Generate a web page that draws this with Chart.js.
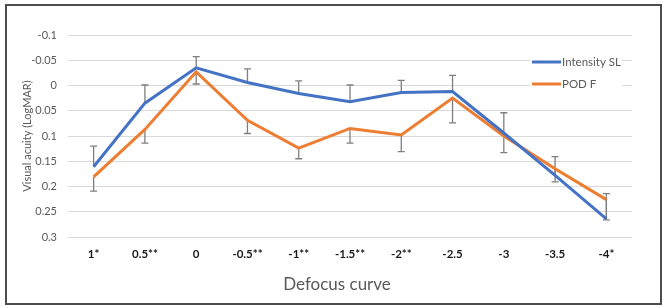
<!DOCTYPE html>
<html>
<head>
<meta charset="utf-8">
<script src="https://cdn.jsdelivr.net/npm/chart.js@4/dist/chart.umd.min.js"></script>
<style>
  html, body { margin: 0; padding: 0; background: #fff; }
  #wrap { width: 663px; height: 307px; }
</style>
</head>
<body>
<div id="wrap"><canvas id="myChart" width="663" height="307"></canvas></div>
<script>
// Defocus curve data (LogMAR)
const categories = ['1*', '0.5**', '0', '-0.5**', '-1**', '-1.5**', '-2**', '-2.5', '-3', '-3.5', '-4*'];
const intensitySL = [0.161, 0.035, -0.035, -0.006, 0.016, 0.032, 0.014, 0.012, 0.094, 0.178, 0.264];
const podF = [0.181, 0.087, -0.027, 0.069, 0.124, 0.085, 0.098, 0.025, 0.100, 0.165, 0.226];
// error bars: intensity drawn upwards, POD F drawn downwards
const intensityErr = [0.041, 0.036, 0.022, 0.027, 0.025, 0.033, 0.024, 0.032, 0.040, 0.037, 0.050];
const podErr = [0.028, 0.027, 0.024, 0.026, 0.021, 0.029, 0.033, 0.049, 0.033, 0.026, 0.040];
const yTickValues = [-0.1, -0.05, 0, 0.05, 0.1, 0.15, 0.2, 0.25, 0.3];
const yTickLabels = ['-0.1', '-0.05', '0', '0.05', '0.1', '0.15', '0.2', '0.25', '0.3'];

const FONT = 'Lato, "Open Sans", sans-serif';

// Frame around the figure
const framePlugin = {
    id: 'frame',
    beforeDraw(chart) {
        const ctx = chart.ctx;
        ctx.save();
        ctx.strokeStyle = '#4d4d4d';
        ctx.lineWidth = 2;
        ctx.strokeRect(6, 5, 655, 299);
        ctx.restore();
    }
};

// Error bars, drawn below the lines
const errorBarPlugin = {
    id: 'errorBars',
    beforeDatasetsDraw(chart) {
        const ctx = chart.ctx;
        const x = chart.scales.x;
        const y = chart.scales.y;
        ctx.save();
        ctx.strokeStyle = '#7f7f7f';
        ctx.lineWidth = 1.3;
        const bar = (px, v0, v1) => {
            const y0 = y.getPixelForValue(v0);
            const y1 = y.getPixelForValue(v1);
            ctx.beginPath();
            ctx.moveTo(px, y0);
            ctx.lineTo(px, y1);
            ctx.moveTo(px - 3.5, y1);
            ctx.lineTo(px + 3.5, y1);
            ctx.stroke();
        };
        categories.forEach((c, i) => {
            const px = x.getPixelForValue(i);
            bar(px, intensitySL[i], intensitySL[i] - intensityErr[i]);
            bar(px, podF[i], podF[i] + podErr[i]);
        });
        ctx.restore();
    }
};

// Legend inside the plot and the axis titles
const labelsPlugin = {
    id: 'labels',
    afterDraw(chart) {
        const ctx = chart.ctx;
        const area = chart.chartArea;
        ctx.save();
        // legend
        ctx.fillStyle = '#fff';
        ctx.fillRect(530, 50, 92, 44);
        chart.data.datasets.forEach((ds, i) => {
            const ly = 62 + i * 22;
            ctx.strokeStyle = ds.borderColor;
            ctx.lineWidth = 3;
            ctx.beginPath();
            ctx.moveTo(532, ly);
            ctx.lineTo(561, ly);
            ctx.stroke();
            ctx.fillStyle = '#595959';
            ctx.font = '11.5px ' + FONT;
            ctx.textBaseline = 'middle';
            ctx.textAlign = 'left';
            ctx.fillText(ds.label, 562, ly);
        });
        // x title
        ctx.fillStyle = '#595959';
        ctx.font = '17px ' + FONT;
        ctx.textAlign = 'center';
        ctx.textBaseline = 'middle';
        ctx.fillText('Defocus curve', 337, 285);
        // y title
        ctx.translate(27, (area.top + area.bottom) / 2);
        ctx.rotate(-Math.PI / 2);
        ctx.font = '11px ' + FONT;
        ctx.fillText('Visual acuity (LogMAR)', 0, 0);
        ctx.restore();
    }
};

const ctx = document.getElementById('myChart').getContext('2d');
new Chart(ctx, {
    type: 'line',
    data: {
        labels: categories,
        datasets: [{
            label: 'Intensity SL',
            data: intensitySL,
            borderColor: '#4472C4',
            backgroundColor: '#4472C4',
            borderWidth: 3,
            pointRadius: 0,
            tension: 0
        }, {
            label: 'POD F',
            data: podF,
            borderColor: '#ED7D31',
            backgroundColor: '#ED7D31',
            borderWidth: 3,
            pointRadius: 0,
            tension: 0
        }]
    },
    options: {
        responsive: false,
        animation: false,
        layout: { padding: { top: 35, right: 31, bottom: 0, left: 0 } },
        plugins: {
            legend: { display: false },
            tooltip: { enabled: false }
        },
        scales: {
            x: {
                offset: true,
                grid: { display: false, drawTicks: false },
                border: { display: false },
                ticks: {
                    padding: 10,
                    color: '#1a1a1a',
                    font: { family: FONT, size: 11.5, weight: 'bold' },
                    maxRotation: 0,
                    autoSkip: false
                },
                afterFit(scale) { scale.height = 70; }
            },
            y: {
                reverse: true,
                min: -0.1,
                max: 0.3,
                grid: { color: '#d9d9d9', lineWidth: 1, drawTicks: false },
                border: { display: false },
                ticks: {
                    stepSize: 0.05,
                    padding: 11,
                    color: '#595959',
                    font: { family: FONT, size: 11 },
                    callback: (v) => {
                        const i = yTickValues.findIndex(t => Math.abs(t - v) < 1e-6);
                        return i >= 0 ? yTickLabels[i] : '';
                    }
                },
                afterFit(scale) { scale.width = 68; }
            }
        }
    },
    plugins: [framePlugin, errorBarPlugin, labelsPlugin]
});
</script>
</body>
</html>
